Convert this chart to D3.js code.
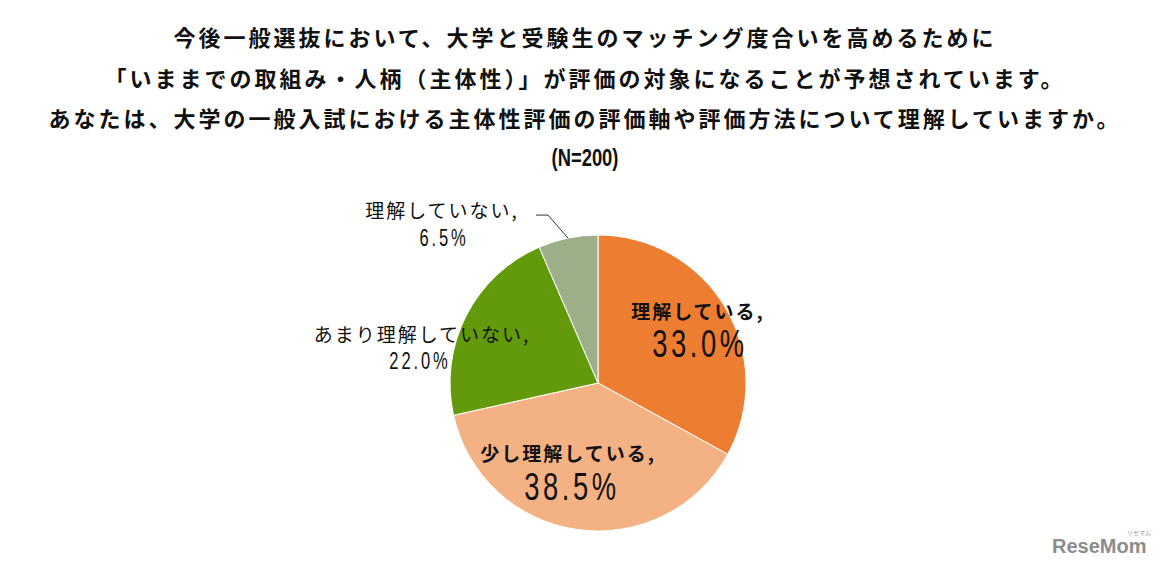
<!DOCTYPE html>
<html>
<head>
<meta charset="utf-8">
<script src="https://cdn.jsdelivr.net/npm/d3@7"></script>
<style>
  html, body { margin: 0; padding: 0; background: #fff; }
  svg { display: block; }
</style>
</head>
<body>
<svg id="chart" width="1162" height="569"></svg>
<script>
// ---- data ----
const categories = ["理解している", "少し理解している", "あまり理解していない", "理解していない"];
const values = [33.0, 38.5, 22.0, 6.5];
const valueLabels = ["33.0%", "38.5%", "22.0%", "6.5%"];
const colors = ["#ED7D31", "#F4B183", "#629A0C", "#9DAF89"];
const titleLines = [
  "今後一般選抜において、大学と受験生のマッチング度合いを高めるために",
  "「いままでの取組み・人柄（主体性）」が評価の対象になることが予想されています。",
  "あなたは、大学の一般入試における主体性評価の評価軸や評価方法について理解していますか。"
];
const subtitle = "(N=200)";

// ---- layout (styles / positions, not data) ----
const W = 1162, H = 569;
const cx = 598, cy = 383, R = 148;
const labelStyle = [
  { bold: true,  numSize: 38, catDx: 100, catDy: -73, numDx: 102, numDy: -39 },
  { bold: true,  numSize: 38, catDx: -30, catDy: 69,  numDx: -26, numDy: 104 },
  { bold: false, numSize: 23, catDx: -176, catDy: -50, numDx: -178, numDy: -22 },
  { bold: false, numSize: 23, catDx: -156, catDy: -174, numDx: -154, numDy: -145 }
];

const svg = d3.select("#chart");
const cjk = "'Noto Sans CJK JP', 'Noto Sans CJK SC', sans-serif";
const num = "'Liberation Sans', Arial, sans-serif";

// title
svg.append("g").selectAll("text").data(titleLines).join("text")
  .attr("x", 585)
  .attr("y", (d, i) => 36 + i * 40.5)
  .attr("text-anchor", "middle")
  .attr("dominant-baseline", "central")
  .attr("font-family", cjk)
  .attr("font-weight", "bold")
  .attr("font-size", 22)
  .attr("letter-spacing", 3)
  .attr("fill", "#111")
  .text(d => d);

svg.append("text")
  .attr("x", 0).attr("y", 0)
  .attr("transform", "translate(585,158) scale(0.8,1)")
  .attr("text-anchor", "middle")
  .attr("dominant-baseline", "central")
  .attr("font-family", num)
  .attr("font-weight", "bold")
  .attr("font-size", 23)
  .attr("fill", "#111")
  .text(subtitle);

// pie
const pie = d3.pie().sort(null).value(d => d.v);
const data = categories.map((c, i) => ({ c, v: values[i], lbl: valueLabels[i], i }));
const arcs = pie(data);
const arc = d3.arc().innerRadius(0).outerRadius(R);

const g = svg.append("g").attr("transform", `translate(${cx},${cy})`);
g.selectAll("path").data(arcs).join("path")
  .attr("d", arc)
  .attr("fill", d => colors[d.data.i])
  .attr("stroke", "#fff")
  .attr("stroke-width", 1);

const cArc = d3.arc().innerRadius(0).outerRadius(0);
arcs.forEach(a => {
  const s = labelStyle[a.data.i];
  const [x0, y0] = cArc.centroid(a);
  g.append("text")
    .attr("x", x0 + s.catDx).attr("y", y0 + s.catDy)
    .attr("text-anchor", "middle")
    .attr("dominant-baseline", "central")
    .attr("font-family", cjk)
    .attr("font-weight", s.bold ? "bold" : "normal")
    .attr("font-size", 19)
    .attr("letter-spacing", 2)
    .attr("fill", "#111")
    .text(a.data.c + ",");
  const nx = x0 + s.numDx, ny = y0 + s.numDy;
  g.append("text")
    .attr("x", 0).attr("y", 0)
    .attr("transform", `translate(${nx},${ny}) scale(0.72,1)`)
    .attr("text-anchor", "middle")
    .attr("dominant-baseline", "central")
    .attr("font-family", num)
    .attr("font-size", s.numSize)
    .attr("letter-spacing", s.numSize > 30 ? 5 : 4)
    .attr("fill", "#111")
    .text(a.data.lbl);
});

// leader line for the small slice
const small = arcs[3];
const mid = (small.startAngle + small.endAngle) / 2;
const px = R * Math.sin(mid), py = -R * Math.cos(mid);
g.append("path")
  .attr("d", `M${px},${py} L${px - 20},${py - 23} L${px - 32},${py - 23}`)
  .attr("fill", "none")
  .attr("stroke", "#333")
  .attr("stroke-width", 1);

// watermark
svg.append("text")
  .attr("x", 1052).attr("y", 553)
  .attr("font-family", num)
  .attr("font-weight", "bold")
  .attr("font-size", 20)
  .attr("fill", "#8c8c8c")
  .text("ReseMom");
svg.append("text")
  .attr("x", 1127).attr("y", 535)
  .attr("font-family", cjk)
  .attr("font-size", 6)
  .attr("fill", "#9a9a9a")
  .text("リセマム");
</script>
</body>
</html>
